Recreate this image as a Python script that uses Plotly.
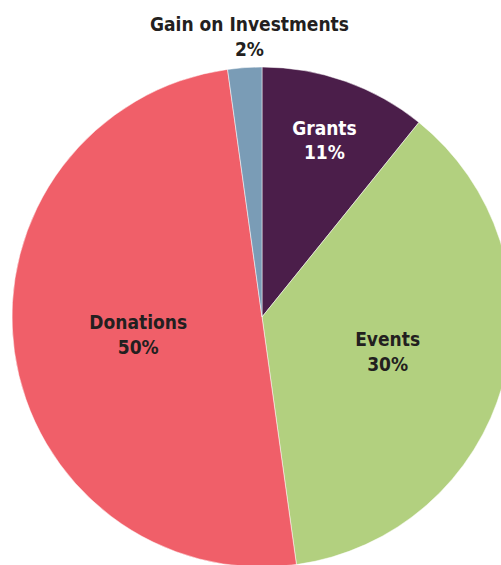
import plotly.graph_objects as go

labels = ["Grants", "Events", "Donations", "Gain on Investments"]
values = [10.8, 37.0, 50.0, 2.2]
pct_labels = ["11%", "30%", "50%", "2%"]
colors = ["#4b1e4a", "#b2d07f", "#f05f69", "#7a9cb6"]
text_colors = ["#ffffff", "#231f20", "#231f20", "#231f20"]

W, H = 520, 580
cx, cy, r = 262, 317, 250
FONT = "DejaVu Sans Condensed, Liberation Sans Narrow, sans-serif"

templates = ["<b>%{label}</b><br><b>%{text}</b>"] * 3 + [""]

fig = go.Figure(go.Pie(
    labels=labels,
    values=values,
    text=pct_labels,
    texttemplate=templates,
    textposition="inside",
    insidetextorientation="horizontal",
    sort=False,
    direction="clockwise",
    rotation=0,
    marker=dict(colors=colors, line=dict(color="#ffffff", width=0.5)),
    textfont=dict(family=FONT, size=19, color=text_colors),
    insidetextfont=dict(family=FONT, size=19, color=text_colors),
    domain=dict(x=[(cx - r) / W, (cx + r) / W], y=[1 - (cy + r) / H, 1 - (cy - r) / H]),
    showlegend=False,
    hoverinfo="label+text",
))

# outside label for the small slice
fig.add_annotation(
    x=249 / W, y=1 - 62 / H, xref="paper", yref="paper",
    xanchor="center", yanchor="bottom",
    text=f"<b>{labels[3]}</b><br><b>{pct_labels[3]}</b>",
    showarrow=False,
    font=dict(family=FONT, size=19, color="#231f20"),
    align="center",
)

fig.update_layout(
    width=W, height=H,
    margin=dict(l=0, r=0, t=0, b=0),
    paper_bgcolor="#ffffff",
    plot_bgcolor="#ffffff",
    showlegend=False,
)

fig.write_html("out.html", config={"displayModeBar": False},
               post_script="document.body.style.overflow='hidden';document.body.style.margin='0';")
